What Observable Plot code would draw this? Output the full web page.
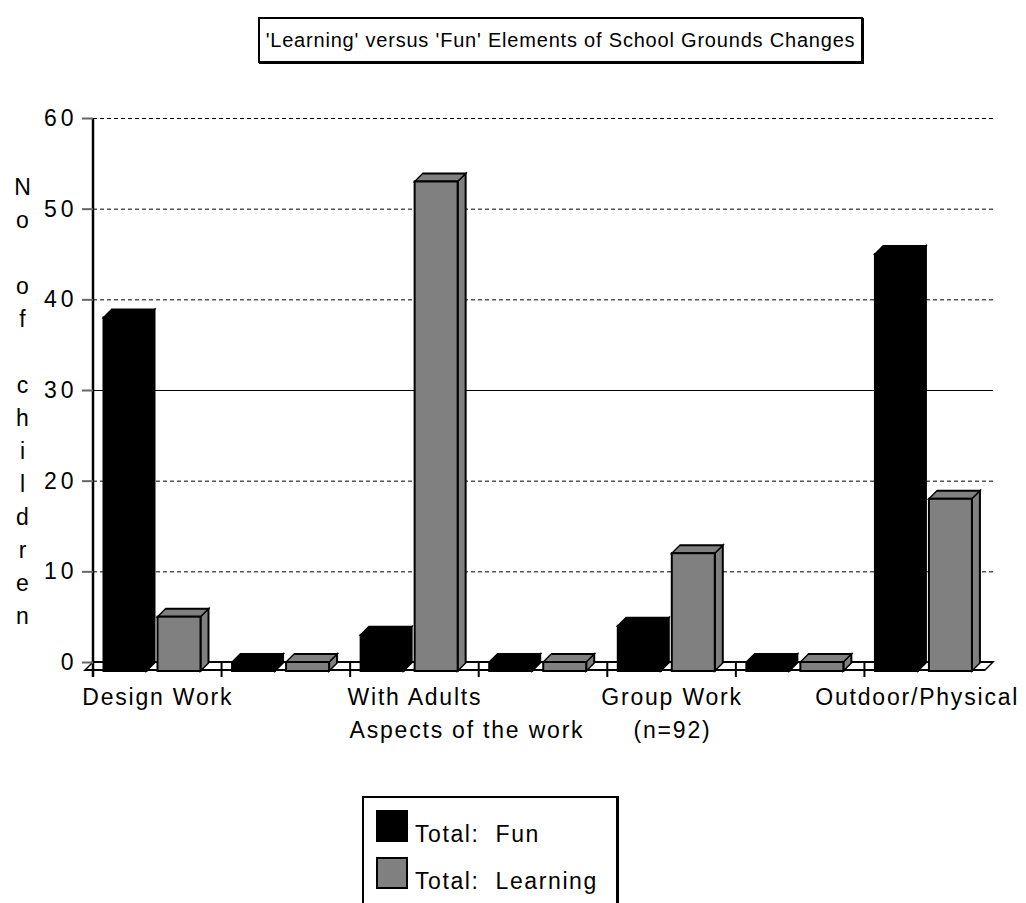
<!DOCTYPE html>
<html>
<head>
<meta charset="utf-8">
<script src="https://cdn.jsdelivr.net/npm/d3@7"></script>
<script src="https://cdn.jsdelivr.net/npm/@observablehq/plot@0.6"></script>
<style>
  html, body { margin: 0; padding: 0; background: #fff; overflow: hidden; }
  body { width: 1026px; height: 903px; position: relative; font-family: "Liberation Sans", Arial, Helvetica, sans-serif; color: #000; }
  #title { position: absolute; left: 258px; top: 17px; width: 601px; height: 42px; border: 2px solid #000; box-shadow: 1px 1px 0 #000;
           display: flex; align-items: center; justify-content: center; font-size: 20px; letter-spacing: 0.8px; white-space: pre; }
  #chart { position: absolute; left: 0; top: 80px; }
  #legend { position: absolute; left: 362px; top: 796px; width: 252px; height: 140px; border: 2px solid #000; border-right-width: 3px; }
  .item { position: absolute; left: 12px; display: flex; align-items: baseline; font-size: 23px; letter-spacing: 1.6px; white-space: pre; }
  .swatch { display: block; width: 32px; height: 32px; box-sizing: border-box; margin-right: 7px; border: 2px solid #000; }
  g[aria-label^="y-axis tick label"] text { letter-spacing: 4px; }
  g[aria-label^="x-axis tick label"] text { letter-spacing: 1.8px; }
  g[aria-description="axis title"] text { letter-spacing: 1.8px; white-space: pre; }
</style>
</head>
<body>
<div id="title">'Learning' versus 'Fun' Elements of School Grounds Changes</div>
<div id="chart"></div>
<div id="legend"></div>
<script>
// Categories (blank slots keep the spacing between the labelled groups)
const groupLabels = ["Design Work", "", "With Adults", "", "Group Work", "", "Outdoor/Physical"];
const seriesNames = ["Total:  Fun", "Total:  Learning"];
const seriesColors = ["#000000", "#808080"];
const funValues = [38, 0, 3, 0, 4, 0, 45];
const learningValues = [5, 0, 53, 0, 12, 0, 18];
const yTicks = [0, 10, 20, 30, 40, 50, 60];
const dashedGrid = [10, 20, 40, 50, 60];
const solidGrid = [30];
const yTitle = "N\no\n\u00a0\no\nf\n\u00a0\nc\nh\ni\nl\nd\nr\ne\nn";
const xTitle = "Aspects of the work\u00a0\u00a0\u00a0\u00a0\u00a0\u00a0(n=92)";

const width = 1026, height = 680;
const marginLeft = 93, marginRight = 33, marginTop = 38, marginBottom = 98;
const groupIndex = d3.range(groupLabels.length);
const band = (width - marginLeft - marginRight) / groupLabels.length;

// box geometry within a group band (pixels)
const LEAD = 10.5, FACE = 43, DEPTH = 8, GAP = 3, DROP = 9;

const rows = groupIndex.flatMap(i => [
  {group: i, series: 0, value: funValues[i]},
  {group: i, series: 1, value: learningValues[i]}
]);

function boxMarks(s) {
  const data = rows.filter(d => d.series === s);
  const left = LEAD + s * (FACE + DEPTH + GAP);
  const style = {x: "group", fill: seriesColors[s], stroke: "#000", strokeWidth: 2};
  return [
    Plot.barY(data, {...style, y1: 0, y2: "value", insetBottom: -DROP,
      insetLeft: left + FACE, insetRight: band - left - FACE - DEPTH, ariaDescription: "bar side"}),
    Plot.barY(data, {...style, y1: "value", y2: "value", insetTop: -DEPTH,
      insetLeft: left, insetRight: band - left - FACE, ariaDescription: "bar top"}),
    Plot.barY(data, {...style, y1: 0, y2: "value", insetBottom: -DROP,
      insetLeft: left, insetRight: band - left - FACE, ariaDescription: "bar front"})
  ];
}

const chart = Plot.plot({
  width, height, marginLeft, marginRight, marginTop, marginBottom,
  style: {fontFamily: "'Liberation Sans', Arial, sans-serif", fontSize: "23px", color: "#000", background: "#fff", overflow: "visible"},
  x: {type: "band", domain: groupIndex, padding: 0, round: false},
  y: {domain: [0, 60], nice: false},
  marks: [
    // back-wall gridlines
    Plot.ruleY(dashedGrid, {stroke: "#000", strokeWidth: 1, strokeDasharray: "4,3"}),
    Plot.ruleY(solidGrid, {stroke: "#000", strokeWidth: 1}),
    // floor slab
    Plot.rect([0], {y1: 0, y2: 0, insetBottom: -DEPTH, fill: "#fff", stroke: "#000", strokeWidth: 2, ariaDescription: "floor"}),
    // group boundary ticks across the floor
    Plot.barY(groupIndex, {x: d => d, y1: 0, y2: 0, insetBottom: -15, insetLeft: -1, insetRight: band - 1, fill: "#000"}),
    // vertical axis line
    Plot.barY([0], {x: d => d, y1: 0, y2: 60, insetBottom: -15, insetLeft: -1.25, insetRight: band - 1.25, fill: "#000"}),
    Plot.axisY({ticks: yTicks, tickSize: 11, tickPadding: 5, fontSize: 23, stroke: "#666", strokeWidth: 2, label: null}),
    ...boxMarks(0),
    ...boxMarks(1),
    Plot.axisX({ticks: [0, 2, 4], tickFormat: i => groupLabels[i], tickSize: 0, tickPadding: 26, fontSize: 23, label: null}),
    Plot.axisX({ticks: [6], tickFormat: i => groupLabels[i], tickSize: 0, tickPadding: 26, fontSize: 23, label: null, dx: -12}),
    Plot.text([yTitle], {frameAnchor: "left", dx: -71, dy: 8.5, text: d => d, lineHeight: 1.435, fontSize: 23, textAnchor: "middle"}),
    Plot.text([xTitle], {frameAnchor: "bottom", dx: -13, dy: 75, text: d => d, fontSize: 23, ariaDescription: "axis title"})
  ]
});

// receding faces: shear the top faces, side faces and floor slab into parallelograms
function shear(selector, make) {
  chart.querySelectorAll(selector).forEach(r => {
    const x = +r.getAttribute("x"), y = +r.getAttribute("y"), h = +r.getAttribute("height");
    r.setAttribute("transform", make(x, y, h));
  });
}
shear('g[aria-description="bar top"] rect', (x, y, h) => `translate(${x},${y + h}) skewX(-45) translate(${-x},${-(y + h)})`);
shear('g[aria-description="floor"] rect', (x, y, h) => `translate(${x},${y}) skewX(-45) translate(${-x},${-y})`);
shear('g[aria-description="bar side"] rect', (x, y, h) => `translate(${x},${y}) skewY(-45) translate(${-x},${-y})`);

document.getElementById("chart").appendChild(chart);

// legend
const legend = document.getElementById("legend");
seriesNames.forEach((name, i) => {
  const item = document.createElement("div");
  item.className = "item";
  item.style.top = (12 + i * 47) + "px";
  const sw = document.createElement("span");
  sw.className = "swatch";
  sw.style.background = seriesColors[i];
  item.appendChild(sw);
  const label = document.createElement("span");
  label.textContent = name;
  item.appendChild(label);
  legend.appendChild(item);
});
</script>
</body>
</html>
